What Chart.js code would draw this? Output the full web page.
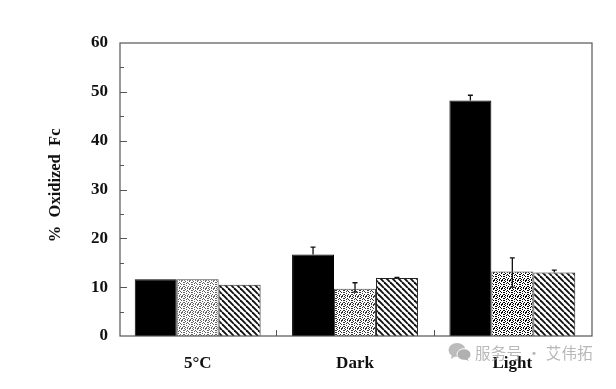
<!DOCTYPE html>
<html>
<head>
<meta charset="utf-8">
<title>% Oxidized Fc</title>
<script src="https://cdn.jsdelivr.net/npm/chart.js@4"></script>
<style>
  html, body { margin: 0; padding: 0; background: #fff; overflow: hidden; }
  #wrap { position: relative; width: 616px; height: 389px; }
  #watermark {
    position: absolute; left: 448px; top: 341px; height: 22px; white-space: nowrap;
    font: 15.5px "Noto Sans CJK SC", sans-serif; line-height: 22px; color: rgba(160,160,160,0.75);
  }
  #watermark svg { position: absolute; left: 0; top: 1px; }
  #watermark span { position: absolute; left: 27px; top: 0; letter-spacing: 0.3px; }
</style>
</head>
<body>
<div id="wrap">
  <canvas id="chart" width="616" height="389"></canvas>
  <div id="watermark">
    <svg width="24" height="20" viewBox="0 0 24 20">
      <ellipse cx="9" cy="8" rx="8.5" ry="7" fill="#bcbcbc"/>
      <path d="M4 12 L3 17 L9 13 Z" fill="#bcbcbc"/>
      <ellipse cx="16" cy="12.5" rx="7" ry="5.8" fill="#b0b0b0" stroke="#fff" stroke-width="1"/>
      <path d="M19 16 L21 19 L16 17 Z" fill="#b0b0b0"/>
    </svg>
    <span>服务号 · 艾伟拓</span>
  </div>
</div>
<script>
const categories = ['5°C', 'Dark', 'Light'];
const solidValues = [11.6, 16.7, 48.2];
const stippleValues = [11.6, 9.7, 13.2];
const hatchValues = [10.5, 11.9, 13.0];

// error bars, given as the value of the whisker end (null = none drawn)
const solidUpper = [null, 18.2, 49.3];
const stippleUpper = [null, 10.9, 16.0];
const stippleLower = [null, 9.0, 10.0];
const hatchUpper = [null, 12.0, 13.5];

const yTickLabels = [0, 10, 20, 30, 40, 50, 60];

const INK = '#111';
const AXIS = '#555';
const SERIF = '"Liberation Serif", "DejaVu Serif", serif';

// small fixed tile for the speckled bars, the print gets darker from group to group
const stippleTile = [
  '#..#.##.',
  '.#...#..',
  '#..#...#',
  '..#.#...',
  '#....#.#',
  '..#.....',
  '#...#..#',
  '.#.#..#.'
];
const stippleInk = ['#666', '#333', '#000'];

function stipplePattern(ink) {
  const c = document.createElement('canvas');
  c.width = c.height = 8;
  const g = c.getContext('2d');
  g.fillStyle = '#fff';
  g.fillRect(0, 0, 8, 8);
  g.fillStyle = ink;
  stippleTile.forEach((row, y) => {
    row.split('').forEach((cell, x) => {
      if (cell === '#') g.fillRect(x, y, 1, 1);
    });
  });
  return g.createPattern(c, 'repeat');
}

function hatchPattern() {
  const size = 6;
  const c = document.createElement('canvas');
  c.width = c.height = size;
  const g = c.getContext('2d');
  g.fillStyle = '#fff';
  g.fillRect(0, 0, size, size);
  g.strokeStyle = '#111';
  g.lineWidth = 1.9;
  for (let i = -size; i <= size; i += size) {
    g.beginPath();
    g.moveTo(i, 0);
    g.lineTo(i + size, size);
    g.stroke();
  }
  return g.createPattern(c, 'repeat');
}

// frame, inward ticks and whiskers
const decorations = {
  id: 'decorations',
  afterDatasetsDraw(chart) {
    const { ctx, chartArea: a, scales: { x, y } } = chart;
    // the frame sits 1px to the right of the category band in the original
    const left = a.left + 1;
    const right = a.right + 1;
    ctx.save();
    ctx.strokeStyle = AXIS;
    ctx.lineWidth = 1.2;
    ctx.strokeRect(left, a.top, right - left, a.bottom - a.top);

    ctx.lineWidth = 1;
    for (let v = 5; v < 60; v += 5) {
      const py = Math.round(y.getPixelForValue(v)) + 0.5;
      ctx.beginPath();
      ctx.moveTo(left, py);
      ctx.lineTo(left + (v % 10 === 0 ? 7 : 4), py);
      ctx.stroke();
    }
    // short ticks between the groups
    for (let i = 1; i < categories.length; i++) {
      const px = Math.round((x.getPixelForValue(i - 1) + x.getPixelForValue(i)) / 2) + 0.5;
      ctx.beginPath();
      ctx.moveTo(px, a.bottom);
      ctx.lineTo(px, a.bottom - 6);
      ctx.stroke();
    }

    ctx.strokeStyle = INK;
    ctx.lineWidth = 1.3;
    const whisker = (px, from, to) => {
      const y0 = y.getPixelForValue(from);
      const y1 = y.getPixelForValue(to);
      ctx.beginPath();
      ctx.moveTo(px, y0);
      ctx.lineTo(px, y1);
      ctx.moveTo(px - 2.5, y1);
      ctx.lineTo(px + 2.5, y1);
      ctx.stroke();
    };
    const series = [
      [solidValues, solidUpper, null],
      [stippleValues, stippleUpper, stippleLower],
      [hatchValues, hatchUpper, null]
    ];
    series.forEach(([vals, up, low], d) => {
      const bars = chart.getDatasetMeta(d).data;
      vals.forEach((v, i) => {
        if (up[i] !== null) whisker(bars[i].x, v, up[i]);
        if (low && low[i] !== null) whisker(bars[i].x, v, low[i]);
      });
    });
    ctx.restore();
  }
};

const ctx = document.getElementById('chart').getContext('2d');
new Chart(ctx, {
  type: 'bar',
  data: {
    labels: categories,
    datasets: [
      { label: 'Solid', data: solidValues, backgroundColor: '#000', borderColor: '#000', borderWidth: 1 },
      { label: 'Stippled', data: stippleValues, backgroundColor: stippleInk.map(stipplePattern), borderColor: '#444', borderWidth: 1 },
      { label: 'Hatched', data: hatchValues, backgroundColor: hatchPattern(), borderColor: '#222', borderWidth: 1 }
    ]
  },
  options: {
    responsive: false,
    animation: false,
    layout: { padding: { left: 0, right: 25, top: 43, bottom: 0 } },
    plugins: { legend: { display: false }, tooltip: { enabled: false } },
    datasets: { bar: { categoryPercentage: 0.8, barPercentage: 1 } },
    scales: {
      x: {
        grid: { display: false },
        border: { display: false },
        ticks: {
          color: INK,
          padding: 9,
          maxRotation: 0,
          font: { family: SERIF, weight: 'bold', size: 17 }
        },
        afterFit(scale) { scale.height = 53; }
      },
      y: {
        min: 0,
        max: 60,
        grid: { display: false },
        border: { display: false },
        afterBuildTicks(scale) { scale.ticks = yTickLabels.map(value => ({ value })); },
        ticks: {
          color: INK,
          padding: 3,
          font: { family: SERIF, weight: 'bold', size: 17 }
        },
        title: {
          display: true,
          // leading spaces lift the title a little, it is not centred on the axis
          text: '  %  Oxidized  Fc',
          color: INK,
          padding: { top: 46, bottom: 0 },
          font: { family: SERIF, weight: 'bold', size: 16.5 }
        },
        afterFit(scale) { scale.width = 119; }
      }
    }
  },
  plugins: [decorations]
});
</script>
</body>
</html>
